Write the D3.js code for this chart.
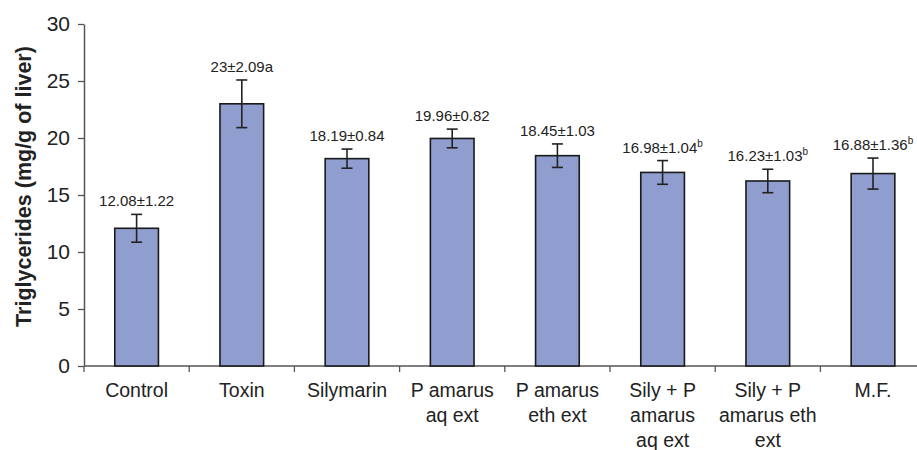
<!DOCTYPE html>
<html>
<head>
<meta charset="utf-8">
<script src="https://cdn.jsdelivr.net/npm/d3@7"></script>
<style>
  body { margin: 0; background: #fff; }
  svg { display: block; font-family: "Liberation Sans", Arial, sans-serif; }
</style>
</head>
<body>
<svg id="chart" width="917" height="450"></svg>
<script>
// Triglyceride levels (mg/g of liver) per treatment group, mean ± SD
const categories = [
  ["Control"],
  ["Toxin"],
  ["Silymarin"],
  ["P amarus", "aq ext"],
  ["P amarus", "eth ext"],
  ["Sily + P", "amarus", "aq ext"],
  ["Sily + P", "amarus eth", "ext"],
  ["M.F."]
];
const means = [12.08, 23, 18.19, 19.96, 18.45, 16.98, 16.23, 16.88];
const sds = [1.22, 2.09, 0.84, 0.82, 1.03, 1.04, 1.03, 1.36];
const marks = ["", "a", "", "", "", "b", "b", "b"];
const superMarks = [false, false, false, false, false, true, true, true];
const yTicks = [0, 5, 10, 15, 20, 25, 30];

const rows = means.map((m, i) => ({
  i, mean: m, sd: sds[i], mark: marks[i], sup: superMarks[i], lines: categories[i]
}));

const svg = d3.select("#chart");
const plotLeft = 84, plotTop = 24, plotBottom = 366;
const band = 105.2;

const x = d3.scaleBand()
  .domain(d3.range(categories.length))
  .range([plotLeft, plotLeft + band * categories.length])
  .paddingInner(0.585)
  .paddingOuter(0.2925);

const y = d3.scaleLinear().domain([0, 30]).range([plotBottom, plotTop]);
const cx = d => x(d.i) + x.bandwidth() / 2;

const ink = "#222";
const axisColor = "#555";

// y axis
const yAxis = svg.append("g")
  .attr("transform", `translate(${plotLeft},0)`)
  .call(d3.axisLeft(y).tickValues(yTicks).tickSize(6).tickPadding(8).tickSizeOuter(0));
yAxis.select(".domain").attr("stroke", axisColor).attr("stroke-width", 1.5);
yAxis.selectAll(".tick line").attr("stroke", axisColor).attr("stroke-width", 1.3);
yAxis.selectAll(".tick text").attr("font-size", 21).attr("fill", ink)
  .attr("font-family", "Liberation Sans, Arial, sans-serif");

// x axis baseline and category separators
const xEdges = d3.range(categories.length + 1).map(i => plotLeft + i * band);
svg.append("line")
  .attr("x1", plotLeft).attr("x2", 917)
  .attr("y1", plotBottom).attr("y2", plotBottom)
  .attr("stroke", axisColor).attr("stroke-width", 1.5);
svg.selectAll("line.xtick").data(xEdges).join("line")
  .attr("class", "xtick")
  .attr("x1", d => d).attr("x2", d => d)
  .attr("y1", plotBottom).attr("y2", plotBottom + 6)
  .attr("stroke", axisColor).attr("stroke-width", 1.3);

// bars
svg.selectAll("rect.bar").data(rows).join("rect")
  .attr("class", "bar")
  .attr("x", d => x(d.i))
  .attr("width", x.bandwidth())
  .attr("y", d => y(d.mean))
  .attr("height", d => y(0) - y(d.mean))
  .attr("fill", "#8f9dcf")
  .attr("stroke", "#1a1a1a")
  .attr("stroke-width", 1.6);

// error bars
const cap = 5.5;
const eb = svg.selectAll("g.err").data(rows).join("g").attr("class", "err")
  .attr("transform", d => `translate(${cx(d)},0)`);
eb.append("line")
  .attr("y1", d => y(d.mean - d.sd)).attr("y2", d => y(d.mean + d.sd))
  .attr("stroke", ink).attr("stroke-width", 1.6);
eb.append("line")
  .attr("x1", -cap).attr("x2", cap)
  .attr("y1", d => y(d.mean + d.sd)).attr("y2", d => y(d.mean + d.sd))
  .attr("stroke", ink).attr("stroke-width", 1.6);
eb.append("line")
  .attr("x1", -cap).attr("x2", cap)
  .attr("y1", d => y(d.mean - d.sd)).attr("y2", d => y(d.mean - d.sd))
  .attr("stroke", ink).attr("stroke-width", 1.6);

// value labels
const labels = svg.selectAll("text.val").data(rows).join("text")
  .attr("class", "val")
  .attr("x", cx)
  .attr("y", d => y(d.mean + d.sd) - 8)
  .attr("text-anchor", "middle")
  .attr("font-size", 15)
  .attr("fill", ink);
labels.append("tspan").text(d => `${d.mean}±${d.sd.toFixed(2)}` + (d.sup ? "" : d.mark));
labels.filter(d => d.sup).append("tspan")
  .attr("font-size", 10)
  .attr("dy", -6)
  .text(d => d.mark);

// category labels
const cats = svg.selectAll("text.cat").data(rows).join("text")
  .attr("class", "cat")
  .attr("text-anchor", "middle")
  .attr("font-size", 19.5)
  .attr("fill", ink);
cats.each(function (d) {
  const t = d3.select(this);
  d.lines.forEach((ln, k) => {
    t.append("tspan")
      .attr("x", cx(d))
      .attr("y", 397 + k * 25)
      .text(ln);
  });
});

// y axis title
svg.append("text")
  .attr("transform", "translate(31,186.5) rotate(-90)")
  .attr("text-anchor", "middle")
  .attr("font-size", 21.5)
  .attr("font-weight", "bold")
  .attr("fill", ink)
  .text("Triglycerides (mg/g of liver)");
</script>
</body>
</html>
